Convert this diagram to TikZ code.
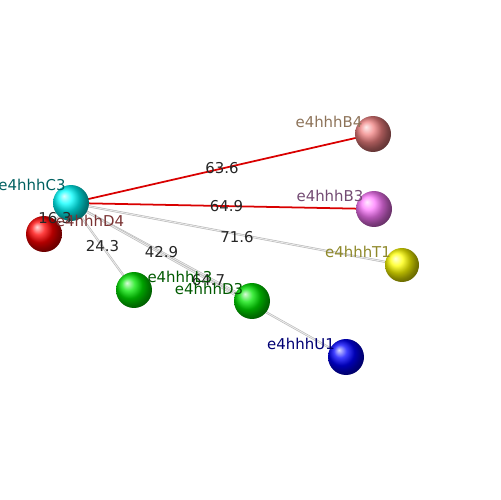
\documentclass[tikz,border=0pt]{standalone}
\usepackage{fontspec}
\setmainfont{DejaVu Sans}
\usetikzlibrary{backgrounds}

\definecolor{salmonball}{RGB}{240,128,128}
\definecolor{violetball}{RGB}{255,120,255}
\definecolor{greenball}{RGB}{0,230,0}

\begin{document}
\begin{tikzpicture}[
    x=0.02cm, y=-0.02cm,
    atom/.style={circle, minimum size=0.72cm, inner sep=0pt, shading=ball},
    bondred/.style={red!85!black, line width=1pt},
    bondgray/.style={draw=gray!55, double=gray!15, double distance=0.5pt, line width=0.35pt},
    dist/.style={font=\fontsize{8.5}{10}\selectfont, text=black!85, inner sep=0pt},
    lbl/.style={font=\fontsize{8.5}{10}\selectfont, inner sep=0pt}
  ]
  \useasboundingbox (0,0) rectangle (500,500);

  % atoms
  \node[atom, ball color=red] (D4) at (44,234) {};
  \node[atom, ball color=cyan] (C3) at (71,203) {};
  \node[atom, ball color=salmonball] (B4) at (373,134) {};
  \node[atom, ball color=violetball] (B3) at (374,209) {};
  \node[atom, ball color=yellow, minimum size=0.68cm] (T1) at (402,265) {};
  \node[atom, ball color=greenball] (L3) at (134,290) {};
  \node[atom, ball color=greenball] (D3) at (252,301) {};
  \node[atom, ball color=blue] (U1) at (346,357) {};

  % bonds behind the atoms
  \begin{scope}[on background layer]
    \draw[bondred] (C3.center) -- (B4.center);
    \draw[bondred] (C3.center) -- (B3.center);
    \draw[bondgray] (C3.center) -- (T1.center);
    \draw[bondgray] (C3.center) -- (D4.center);
    \draw[bondgray] (C3.center) -- (L3.center);
    \draw[bondgray] (C3.center) -- (D3.center);
    \draw[bondgray] (C3.center) -- (U1.center);
  \end{scope}

  % distances
  \path (C3) -- (B4) node[dist, midway] (dB4) {63.6};
  \path (C3) -- (B3) node[dist, midway, xshift=0.08cm] (dB3) {64.9};
  \path (C3) -- (T1) node[dist, midway, yshift=-0.05cm] (dT1) {71.6};
  \path (C3) -- (D4) node[dist, midway, xshift=-0.05cm] (dD4) {16.3};
  \path (C3) -- (L3) node[dist, midway] (dL3) {24.3};
  \path (C3) -- (D3) node[dist, midway] (dD3) {42.9};
  \path (C3) -- (U1) node[dist, midway] (dU1) {64.7};

  % atom labels
  \node[lbl, text=teal!75!black] (tC3) at (32,185) {e4hhhC3};
  \node[lbl, text=red!35!black!80] (tD4) at (90,221) {e4hhhD4};
  \node[lbl, text=brown!45!gray!90!black] (tB4) at (329,122) {e4hhhB4};
  \node[lbl, text=violet!35!gray!90!black] (tB3) at (330,196) {e4hhhB3};
  \node[lbl, text=olive!70!gray] (tT1) at (358,252) {e4hhhT1};
  \node[lbl, text=green!35!black] (tL3) at (180,277) {e4hhhL3};
  \node[lbl, text=green!35!black] (tD3) at (209,289) {e4hhhD3};
  \node[lbl, text=blue!45!black] (tU1) at (301,344) {e4hhhU1};
\end{tikzpicture}
\end{document}
